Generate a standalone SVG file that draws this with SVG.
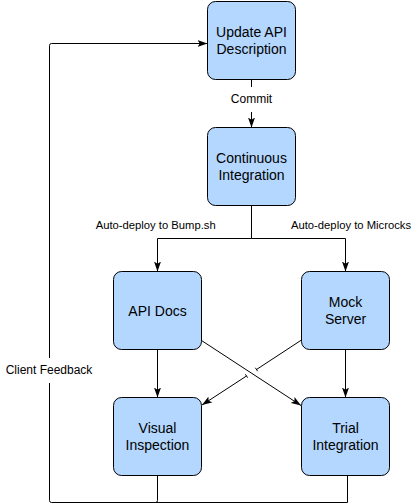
<svg xmlns="http://www.w3.org/2000/svg" width="417" height="504" viewBox="0 0 417 504">
  <defs>
    <marker id="arrow" markerUnits="userSpaceOnUse" markerWidth="10" markerHeight="8" viewBox="0 0 10 8" refX="10" refY="4" orient="auto">
      <path d="M0,0.5 L10,4 L0,7.5 L2.2,4 Z" fill="#000"/>
    </marker>
  </defs>
  <style>
    .node rect { fill: #b3d7ff; stroke: #000; stroke-width: 1; }
    .node text { font-family: "Liberation Sans", Arial, sans-serif; font-size: 14px; fill: #000; text-anchor: middle; }
    .edge { fill: none; stroke: #000; stroke-width: 1; }
    .arrow { marker-end: url(#arrow); }
    .label { font-family: "Liberation Sans", Arial, sans-serif; font-size: 12px; fill: #000; text-anchor: middle; }
    .small { font-size: 11.25px; }
  </style>
  <rect width="417" height="504" fill="#fff"/>

  <g id="connectors">
    <path class="edge arrow" d="M251.5,79.5 V87 M251.5,112 V127.5"/>
    <text class="label" x="251.5" y="103">Commit</text>

    <path class="edge arrow" d="M251.5,205.5 V238.5 H157.5 V271.5"/>
    <path class="edge arrow" d="M251.5,238.5 H345.5 V271.5"/>
    <text class="label small" x="155.7" y="229">Auto-deploy to Bump.sh</text>
    <text class="label small" x="351" y="229">Auto-deploy to Microcks</text>

    <path class="edge arrow" d="M157.5,349.5 V397.5"/>
    <path class="edge arrow" d="M345.5,349.5 V397.5"/>

    <path class="edge arrow" d="M201.5,340.5 L301,405.5"/>
    <path class="edge" d="M301.5,340 L256.5,369.5"/>
    <path class="edge arrow" d="M246.5,376 L202,405"/>
    <path class="edge" d="M255.4,367.8 L257.6,371.2 M245.4,374.3 L247.6,377.7"/>

    <path class="edge" d="M157.5,475.5 V500.5 Q157.5,502.5 155.5,502.5"/>
    <path class="edge" d="M347.5,475.5 V502.5 H51.5 Q49.5,502.5 49.5,500.5 V383"/>
    <path class="edge arrow" d="M49.5,358 V45.5 Q49.5,43.5 51.5,43.5 H207.5"/>
    <text class="label" x="49" y="373.5">Client Feedback</text>
  </g>

  <g id="update-api-description" class="node">
    <rect x="207.5" y="1.5" width="88" height="78" rx="8" ry="8"/>
    <text x="251.5" y="36.5">Update API</text>
    <text x="251.5" y="53.5">Description</text>
  </g>

  <g id="continuous-integration" class="node">
    <rect x="207.5" y="127.5" width="88" height="78" rx="8" ry="8"/>
    <text x="251.5" y="162.5">Continuous</text>
    <text x="251.5" y="179.5">Integration</text>
  </g>

  <g id="api-docs" class="node">
    <rect x="113.5" y="271.5" width="88" height="78" rx="8" ry="8"/>
    <text x="157.5" y="315.5">API Docs</text>
  </g>

  <g id="mock-server" class="node">
    <rect x="301.5" y="271.5" width="88" height="78" rx="8" ry="8"/>
    <text x="345.5" y="306.5">Mock</text>
    <text x="345.5" y="323.5">Server</text>
  </g>

  <g id="visual-inspection" class="node">
    <rect x="113.5" y="397.5" width="88" height="78" rx="8" ry="8"/>
    <text x="157.5" y="432.5">Visual</text>
    <text x="157.5" y="449.5">Inspection</text>
  </g>

  <g id="trial-integration" class="node">
    <rect x="301.5" y="397.5" width="88" height="78" rx="8" ry="8"/>
    <text x="345.5" y="432.5">Trial</text>
    <text x="345.5" y="449.5">Integration</text>
  </g>
</svg>
